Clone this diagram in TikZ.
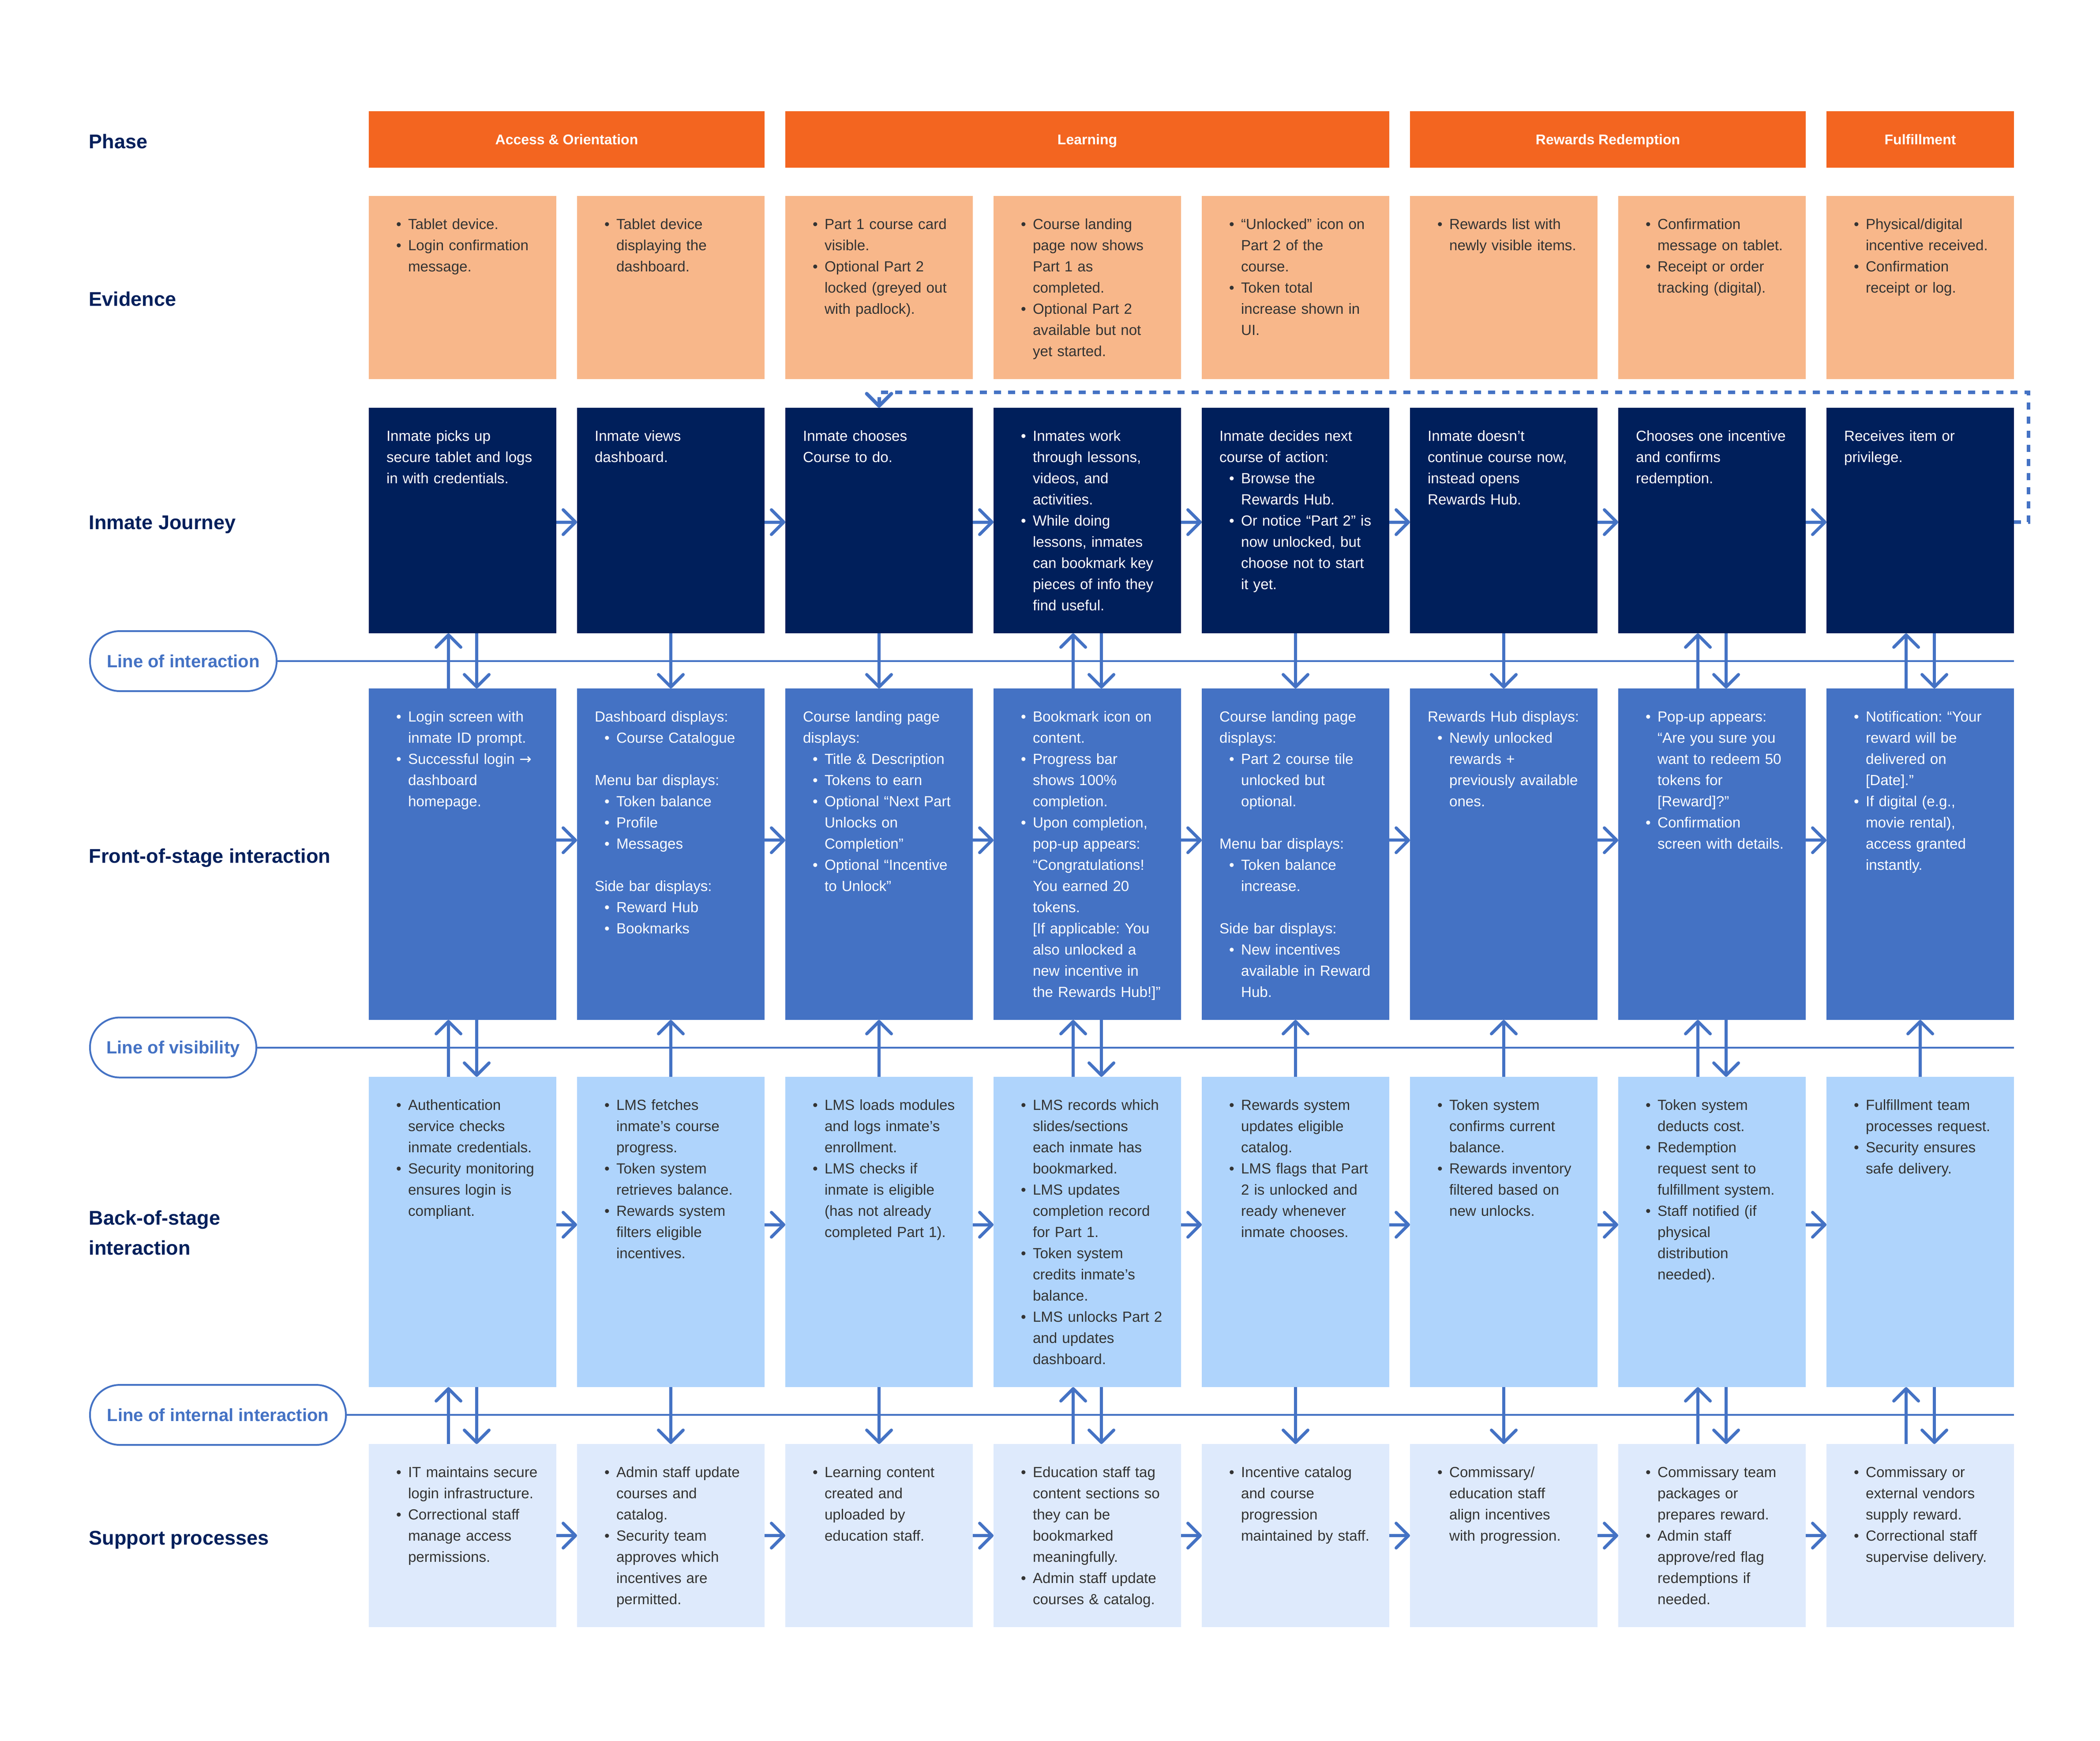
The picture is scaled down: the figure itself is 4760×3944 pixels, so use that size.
\documentclass[tikz,border=0pt]{standalone}
\usepackage{fontspec}
\setmainfont{Liberation Sans}
\newfontfamily\djv{DejaVu Sans}
\usetikzlibrary{arrows.meta}
\frenchspacing
\definecolor{orangeDark}{RGB}{243,101,32}
\definecolor{orangeLight}{RGB}{248,183,138}
\definecolor{navy}{RGB}{0,31,91}
\definecolor{blueMid}{RGB}{68,114,196}
\definecolor{blueLight}{RGB}{175,212,252}
\definecolor{bluePale}{RGB}{222,234,252}
\definecolor{textGrey}{RGB}{51,51,51}
\newcommand\bodyfont{\fontsize{8.3}{12}\selectfont\frenchspacing}
\newcommand\pl[1]{\mbox{#1}}
\newcommand\bu[1]{\mbox{\hspace{5.5pt}\makebox[6.75pt][l]{•}#1}}
\newcommand\cl[1]{\mbox{\hspace{12.25pt}#1}}
\newcommand\bl{\mbox{}}
\tikzset{
  cell/.style={anchor=north west, inner xsep=10pt, inner ysep=0pt, text width=86.25pt,
    text height=18.75pt, align=left, font=\bodyfont, outer sep=0pt},
  evbox/.style={cell, fill=orangeLight, text=textGrey, text depth=85pt},
  jbox/.style={cell, fill=navy, text=white, text depth=109pt},
  fbox/.style={cell, fill=blueMid, text=white, text depth=169pt},
  bbox/.style={cell, fill=blueLight, text=textGrey, text depth=157pt},
  sbox/.style={cell, fill=bluePale, text=textGrey, text depth=85pt},
  phasebox/.style={anchor=north west, fill=orangeDark, text=white,
    font=\bfseries\fontsize{8}{10}\selectfont, minimum height=32pt, inner sep=0pt,
    text height=5.8pt, text depth=0pt, outer sep=0pt},
  rowlabel/.style={anchor=base west, text=navy, font=\bfseries\fontsize{11.25}{14}\selectfont, inner sep=0pt},
  pill/.style={anchor=west, draw=blueMid, line width=1pt, rounded corners=16.9pt, fill=white,
    minimum height=34pt, inner sep=0pt, text=blueMid, font=\bfseries\fontsize{10}{12}\selectfont,
    text height=7.2pt, text depth=0pt},
  sepline/.style={draw=blueMid, line width=1pt},
  arr/.style={draw=blueMid, line width=1.75pt, -{Straight Barb[length=7pt,width=14pt,round]}},
  dotl/.style={draw=blueMid, line width=2pt, dash pattern=on 4pt off 4pt,
    -{Straight Barb[length=7pt,width=14pt,round]}}
}
\begin{document}
\begin{tikzpicture}[x=0.25pt,y=-0.25pt]
\useasboundingbox (0,0) rectangle (4760,3944);
\fill[white] (0,0) rectangle (4760,3944);

% row labels
\node[rowlabel] (lPhase) at (201,336) {Phase};
\node[rowlabel] (lEvid) at (201,693) {Evidence};
\node[rowlabel] (lJour) at (201,1199) {Inmate Journey};
\node[rowlabel] (lFront) at (201,1955) {Front-of-stage interaction};
\node[rowlabel] (lBack) at (201,2775) {Back-of-stage};
\node[rowlabel] (lBack2) at (201,2843) {interaction};
\node[rowlabel] (lSupp) at (201,3500) {Support processes};

% phases
\node[phasebox, minimum width=224.25pt] (p1) at (836,252) {Access \& Orientation};
\node[phasebox, minimum width=342.25pt] (p2) at (1780,252) {Learning};
\node[phasebox, minimum width=224.25pt] (p3) at (3196,252) {Rewards Redemption};
\node[phasebox, minimum width=106.25pt] (p4) at (4140,252) {Fulfillment};

% evidence
\node[evbox] (e1) at (836,444) {\bu{Tablet device.}\\\bu{Login confirmation}\\\cl{message.}};
\node[evbox] (e2) at (1308,444) {\bu{Tablet device}\\\cl{displaying the}\\\cl{dashboard.}};
\node[evbox] (e3) at (1780,444) {\bu{Part 1 course card}\\\cl{visible.}\\\bu{Optional Part 2}\\\cl{locked (greyed out}\\\cl{with padlock).}};
\node[evbox] (e4) at (2252,444) {\bu{Course landing}\\\cl{page now shows}\\\cl{Part 1 as}\\\cl{completed.}\\\bu{Optional Part 2}\\\cl{available but not}\\\cl{yet started.}};
\node[evbox] (e5) at (2724,444) {\bu{“Unlocked” icon on}\\\cl{Part 2 of the}\\\cl{course.}\\\bu{Token total}\\\cl{increase shown in}\\\cl{UI.}};
\node[evbox] (e6) at (3196,444) {\bu{Rewards list with}\\\cl{newly visible items.}};
\node[evbox] (e7) at (3668,444) {\bu{Confirmation}\\\cl{message on tablet.}\\\bu{Receipt or order}\\\cl{tracking (digital).}};
\node[evbox] (e8) at (4140,444) {\bu{Physical/digital}\\\cl{incentive received.}\\\bu{Confirmation}\\\cl{receipt or log.}};

% journey
\node[jbox] (j1) at (836,924) {\pl{Inmate picks up}\\\pl{secure tablet and logs}\\\pl{in with credentials.}};
\node[jbox] (j2) at (1308,924) {\pl{Inmate views}\\\pl{dashboard.}};
\node[jbox] (j3) at (1780,924) {\pl{Inmate chooses}\\\pl{Course to do.}};
\node[jbox] (j4) at (2252,924) {\bu{Inmates work}\\\cl{through lessons,}\\\cl{videos, and}\\\cl{activities.}\\\bu{While doing}\\\cl{lessons, inmates}\\\cl{can bookmark key}\\\cl{pieces of info they}\\\cl{find useful.}};
\node[jbox] (j5) at (2724,924) {\pl{Inmate decides next}\\\pl{course of action:}\\\bu{Browse the}\\\cl{Rewards Hub.}\\\bu{Or notice “Part 2” is}\\\cl{now unlocked, but}\\\cl{choose not to start}\\\cl{it yet.}};
\node[jbox] (j6) at (3196,924) {\pl{Inmate doesn’t}\\\pl{continue course now,}\\\pl{instead opens}\\\pl{Rewards Hub.}};
\node[jbox] (j7) at (3668,924) {\pl{Chooses one incentive}\\\pl{and confirms}\\\pl{redemption.}};
\node[jbox] (j8) at (4140,924) {\pl{Receives item or}\\\pl{privilege.}};

% front of stage
\node[fbox] (f1) at (836,1560) {\bu{Login screen with}\\\cl{inmate ID prompt.}\\\bu{Successful login {\djv →}}\\\cl{dashboard}\\\cl{homepage.}};
\node[fbox] (f2) at (1308,1560) {\pl{Dashboard displays:}\\\bu{Course Catalogue}\\\bl\\\pl{Menu bar displays:}\\\bu{Token balance}\\\bu{Profile}\\\bu{Messages}\\\bl\\\pl{Side bar displays:}\\\bu{Reward Hub}\\\bu{Bookmarks}};
\node[fbox] (f3) at (1780,1560) {\pl{Course landing page}\\\pl{displays:}\\\bu{Title \& Description}\\\bu{Tokens to earn}\\\bu{Optional “Next Part}\\\cl{Unlocks on}\\\cl{Completion”}\\\bu{Optional “Incentive}\\\cl{to Unlock”}};
\node[fbox] (f4) at (2252,1560) {\bu{Bookmark icon on}\\\cl{content.}\\\bu{Progress bar}\\\cl{shows 100\%}\\\cl{completion.}\\\bu{Upon completion,}\\\cl{pop-up appears:}\\\cl{“Congratulations!}\\\cl{You earned 20}\\\cl{tokens.}\\\cl{[If applicable: You}\\\cl{also unlocked a}\\\cl{new incentive in}\\\cl{the Rewards Hub!]”}};
\node[fbox] (f5) at (2724,1560) {\pl{Course landing page}\\\pl{displays:}\\\bu{Part 2 course tile}\\\cl{unlocked but}\\\cl{optional.}\\\bl\\\pl{Menu bar displays:}\\\bu{Token balance}\\\cl{increase.}\\\bl\\\pl{Side bar displays:}\\\bu{New incentives}\\\cl{available in Reward}\\\cl{Hub.}};
\node[fbox] (f6) at (3196,1560) {\pl{Rewards Hub displays:}\\\bu{Newly unlocked}\\\cl{rewards +}\\\cl{previously available}\\\cl{ones.}};
\node[fbox] (f7) at (3668,1560) {\bu{Pop-up appears:}\\\cl{“Are you sure you}\\\cl{want to redeem 50}\\\cl{tokens for}\\\cl{[Reward]?”}\\\bu{Confirmation}\\\cl{screen with details.}};
\node[fbox] (f8) at (4140,1560) {\bu{Notification: “Your}\\\cl{reward will be}\\\cl{delivered on}\\\cl{[Date].”}\\\bu{If digital (e.g.,}\\\cl{movie rental),}\\\cl{access granted}\\\cl{instantly.}};

% back of stage
\node[bbox] (b1) at (836,2440) {\bu{Authentication}\\\cl{service checks}\\\cl{inmate credentials.}\\\bu{Security monitoring}\\\cl{ensures login is}\\\cl{compliant.}};
\node[bbox] (b2) at (1308,2440) {\bu{LMS fetches}\\\cl{inmate’s course}\\\cl{progress.}\\\bu{Token system}\\\cl{retrieves balance.}\\\bu{Rewards system}\\\cl{filters eligible}\\\cl{incentives.}};
\node[bbox] (b3) at (1780,2440) {\bu{LMS loads modules}\\\cl{and logs inmate’s}\\\cl{enrollment.}\\\bu{LMS checks if}\\\cl{inmate is eligible}\\\cl{(has not already}\\\cl{completed Part 1).}};
\node[bbox] (b4) at (2252,2440) {\bu{LMS records which}\\\cl{slides/sections}\\\cl{each inmate has}\\\cl{bookmarked.}\\\bu{LMS updates}\\\cl{completion record}\\\cl{for Part 1.}\\\bu{Token system}\\\cl{credits inmate’s}\\\cl{balance.}\\\bu{LMS unlocks Part 2}\\\cl{and updates}\\\cl{dashboard.}};
\node[bbox] (b5) at (2724,2440) {\bu{Rewards system}\\\cl{updates eligible}\\\cl{catalog.}\\\bu{LMS flags that Part}\\\cl{2 is unlocked and}\\\cl{ready whenever}\\\cl{inmate chooses.}};
\node[bbox] (b6) at (3196,2440) {\bu{Token system}\\\cl{confirms current}\\\cl{balance.}\\\bu{Rewards inventory}\\\cl{filtered based on}\\\cl{new unlocks.}};
\node[bbox] (b7) at (3668,2440) {\bu{Token system}\\\cl{deducts cost.}\\\bu{Redemption}\\\cl{request sent to}\\\cl{fulfillment system.}\\\bu{Staff notified (if}\\\cl{physical}\\\cl{distribution}\\\cl{needed).}};
\node[bbox] (b8) at (4140,2440) {\bu{Fulfillment team}\\\cl{processes request.}\\\bu{Security ensures}\\\cl{safe delivery.}};

% support
\node[sbox] (s1) at (836,3272) {\bu{IT maintains secure}\\\cl{login infrastructure.}\\\bu{Correctional staff}\\\cl{manage access}\\\cl{permissions.}};
\node[sbox] (s2) at (1308,3272) {\bu{Admin staff update}\\\cl{courses and}\\\cl{catalog.}\\\bu{Security team}\\\cl{approves which}\\\cl{incentives are}\\\cl{permitted.}};
\node[sbox] (s3) at (1780,3272) {\bu{Learning content}\\\cl{created and}\\\cl{uploaded by}\\\cl{education staff.}};
\node[sbox] (s4) at (2252,3272) {\bu{Education staff tag}\\\cl{content sections so}\\\cl{they can be}\\\cl{bookmarked}\\\cl{meaningfully.}\\\bu{Admin staff update}\\\cl{courses \& catalog.}};
\node[sbox] (s5) at (2724,3272) {\bu{Incentive catalog}\\\cl{and course}\\\cl{progression}\\\cl{maintained by staff.}};
\node[sbox] (s6) at (3196,3272) {\bu{Commissary/}\\\cl{education staff}\\\cl{align incentives}\\\cl{with progression.}};
\node[sbox] (s7) at (3668,3272) {\bu{Commissary team}\\\cl{packages or}\\\cl{prepares reward.}\\\bu{Admin staff}\\\cl{approve/red flag}\\\cl{redemptions if}\\\cl{needed.}};
\node[sbox] (s8) at (4140,3272) {\bu{Commissary or}\\\cl{external vendors}\\\cl{supply reward.}\\\bu{Correctional staff}\\\cl{supervise delivery.}};

% separation lines with pills
\node[pill, minimum width=105.75pt] (loi) at (202,1498) {Line of interaction};
\node[pill, minimum width=94.25pt] (lov) at (202,2373.5) {Line of visibility};
\node[pill, minimum width=145pt] (lii) at (202,3206) {Line of internal interaction};
\draw[sepline] (loi.east) -- (loi.east -| j8.east);
\draw[sepline] (lov.east) -- (lov.east -| j8.east);
\draw[sepline] (lii.east) -- (lii.east -| j8.east);

% horizontal flow arrows
\foreach \a/\b in {1/2,2/3,3/4,4/5,5/6,6/7,7/8}{
  \draw[arr] ([yshift=-0.9pt]j\a.east) -- ([yshift=-0.9pt]j\b.west);
  \draw[arr] ([yshift=7.9pt]f\a.east) -- ([yshift=7.9pt]f\b.west);
  \draw[arr] ([yshift=4.1pt]b\a.east) -- ([yshift=4.1pt]b\b.west);
  \draw[arr] (s\a.east) -- (s\b.west);
}

% vertical arrows: journey <-> front
\foreach \c in {1,4,7,8}{
  \draw[arr] ([xshift=-8pt]f\c.north) -- ([xshift=-8pt]j\c.south);
  \draw[arr] ([xshift=8pt]j\c.south) -- ([xshift=8pt]f\c.north);
}
\foreach \c in {2,3,5,6}{
  \draw[arr] (j\c.south) -- (f\c.north);
}
% front <-> back
\foreach \c in {1,4,7}{
  \draw[arr] ([xshift=-8pt]b\c.north) -- ([xshift=-8pt]f\c.south);
  \draw[arr] ([xshift=8pt]f\c.south) -- ([xshift=8pt]b\c.north);
}
\foreach \c in {2,3,5,6,8}{
  \draw[arr] (b\c.north) -- (f\c.south);
}
% back <-> support
\foreach \c in {1,4,7,8}{
  \draw[arr] ([xshift=-8pt]s\c.north) -- ([xshift=-8pt]b\c.south);
  \draw[arr] ([xshift=8pt]b\c.south) -- ([xshift=8pt]s\c.north);
}
\foreach \c in {2,3,5,6}{
  \draw[arr] (b\c.south) -- (s\c.north);
}

% dotted loop back to course choice
\coordinate (loopTR) at (4598,889);
\coordinate (dS) at ([yshift=-0.9pt]j8.east);
\draw[dotl] (dS) -- (dS -| loopTR) -- (loopTR) -- (loopTR -| j3.north) -- (j3.north);
\end{tikzpicture}
\end{document}
